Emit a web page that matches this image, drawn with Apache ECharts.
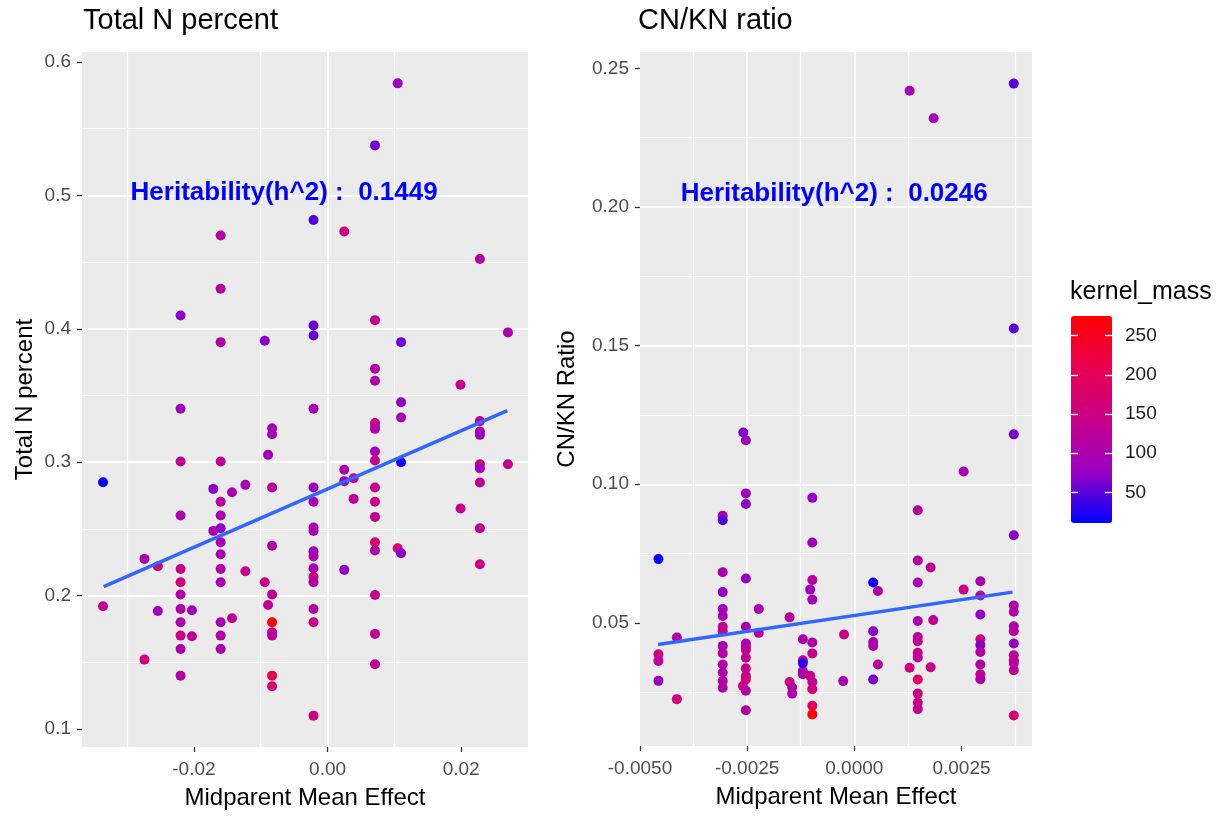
<!DOCTYPE html>
<html>
<head>
<meta charset="utf-8">
<script src="https://cdn.jsdelivr.net/npm/echarts@6/dist/echarts.min.js"></script>
<style>
  html, body { margin: 0; padding: 0; background: #fff; }
  #main { width: 1231px; height: 817px; }
</style>
</head>
<body>
<div id="main"></div>
<script>
// points: [midparent mean effect, trait value, kernel_mass]
var totalNPoints = [
  [-0.0336, 0.285, 15], [-0.0336, 0.192, 130],
  [-0.0274, 0.2275, 100], [-0.0274, 0.152, 160],
  [-0.0254, 0.222, 160], [-0.0254, 0.1885, 85],
  [-0.0220, 0.410, 70], [-0.0220, 0.340, 85], [-0.0220, 0.3005, 130], [-0.0220, 0.260, 100],
  [-0.0220, 0.220, 140], [-0.0220, 0.210, 160], [-0.0220, 0.2008, 110], [-0.0220, 0.190, 110],
  [-0.0220, 0.180, 110], [-0.0220, 0.170, 150], [-0.0220, 0.160, 100], [-0.0220, 0.140, 110],
  [-0.0203, 0.189, 90], [-0.0203, 0.1695, 130],
  [-0.0171, 0.280, 70], [-0.0171, 0.2485, 100],
  [-0.0160, 0.470, 110], [-0.0160, 0.430, 120], [-0.0160, 0.390, 110], [-0.0160, 0.3005, 130],
  [-0.0160, 0.2703, 120], [-0.0160, 0.260, 95], [-0.0160, 0.2505, 70], [-0.0160, 0.240, 95],
  [-0.0160, 0.231, 100], [-0.0160, 0.220, 110], [-0.0160, 0.210, 100], [-0.0160, 0.180, 100],
  [-0.0160, 0.170, 110], [-0.0160, 0.160, 100],
  [-0.0143, 0.2775, 100], [-0.0143, 0.183, 130],
  [-0.0123, 0.283, 100], [-0.0123, 0.2183, 140],
  [-0.0094, 0.391, 70], [-0.0094, 0.210, 150],
  [-0.0089, 0.3055, 90], [-0.0089, 0.193, 130],
  [-0.0083, 0.3255, 90], [-0.0083, 0.321, 90], [-0.0083, 0.281, 120], [-0.0083, 0.2373, 110],
  [-0.0083, 0.2008, 130], [-0.0083, 0.1725, 140], [-0.0083, 0.170, 120],
  [-0.0083, 0.140, 210], [-0.0083, 0.132, 170], [-0.0083, 0.180, 275],
  [-0.0021, 0.4815, 45], [-0.0021, 0.4025, 55], [-0.0021, 0.395, 55], [-0.0021, 0.340, 95],
  [-0.0021, 0.281, 80], [-0.0021, 0.2703, 100], [-0.0021, 0.251, 100], [-0.0021, 0.2485, 100],
  [-0.0021, 0.2333, 80], [-0.0021, 0.2293, 100], [-0.0021, 0.2205, 100], [-0.0021, 0.214, 160],
  [-0.0021, 0.210, 110], [-0.0021, 0.190, 110], [-0.0021, 0.180, 140], [-0.0021, 0.110, 160],
  [0.0025, 0.473, 150], [0.0025, 0.2943, 100], [0.0025, 0.2858, 80], [0.0025, 0.2193, 75],
  [0.0039, 0.288, 140], [0.0039, 0.2725, 120],
  [0.0071, 0.5375, 60], [0.0071, 0.4065, 130], [0.0071, 0.370, 110], [0.0071, 0.361, 110],
  [0.0071, 0.3293, 150], [0.0071, 0.3268, 140], [0.0071, 0.325, 110], [0.0071, 0.308, 90],
  [0.0071, 0.3013, 140], [0.0071, 0.281, 140], [0.0071, 0.2703, 140], [0.0071, 0.259, 130],
  [0.0071, 0.240, 180], [0.0071, 0.2338, 110], [0.0071, 0.2005, 140], [0.0071, 0.1713, 130],
  [0.0071, 0.1485, 130],
  [0.0105, 0.584, 80], [0.0105, 0.2355, 160],
  [0.0110, 0.390, 60], [0.0110, 0.345, 75], [0.0110, 0.3335, 100], [0.0110, 0.300, 20], [0.0110, 0.2318, 70],
  [0.0199, 0.358, 140], [0.0199, 0.2653, 140],
  [0.0228, 0.4523, 110], [0.0228, 0.3308, 130], [0.0228, 0.323, 110], [0.0228, 0.3205, 80],
  [0.0228, 0.2985, 140], [0.0228, 0.2955, 85], [0.0228, 0.2848, 130], [0.0228, 0.2505, 130],
  [0.0228, 0.2235, 150],
  [0.0270, 0.3973, 100], [0.0270, 0.2985, 140]
];

var cnknPoints = [
  [-0.00457, 0.073, 15], [-0.00457, 0.0387, 160], [-0.00457, 0.0363, 120], [-0.00457, 0.0291, 75],
  [-0.00414, 0.0447, 110], [-0.00414, 0.0225, 160],
  [-0.00307, 0.0886, 100], [-0.00307, 0.087, 45], [-0.00307, 0.0683, 100], [-0.00307, 0.0611, 75],
  [-0.00307, 0.055, 85], [-0.00307, 0.0525, 95], [-0.00307, 0.0486, 130], [-0.00307, 0.047, 140],
  [-0.00307, 0.0417, 100], [-0.00307, 0.039, 110], [-0.00307, 0.035, 110], [-0.00307, 0.0321, 110],
  [-0.00307, 0.0291, 110], [-0.00307, 0.0266, 110],
  [-0.00259, 0.1187, 65], [-0.00253, 0.1159, 80], [-0.00253, 0.0967, 85], [-0.00253, 0.0929, 70],
  [-0.00253, 0.066, 75], [-0.00253, 0.0486, 100], [-0.00253, 0.0426, 100], [-0.00253, 0.0414, 100],
  [-0.00253, 0.0402, 130], [-0.00253, 0.0374, 130], [-0.00253, 0.0336, 140], [-0.00253, 0.0308, 150],
  [-0.00253, 0.0296, 160], [-0.0026, 0.0272, 150], [-0.00253, 0.0255, 110], [-0.00253, 0.0185, 110],
  [-0.00223, 0.055, 100], [-0.00223, 0.0464, 110],
  [-0.00151, 0.052, 120], [-0.00151, 0.0287, 160], [-0.00145, 0.0267, 110], [-0.00145, 0.0245, 100],
  [-0.0012, 0.0441, 100], [-0.0012, 0.0365, 130], [-0.0012, 0.0326, 110], [-0.0012, 0.0315, 100],
  [-0.0012, 0.0355, 30],
  [-0.00098, 0.0951, 75], [-0.00098, 0.079, 85], [-0.00098, 0.0655, 120], [-0.00103, 0.062, 85],
  [-0.00098, 0.0584, 95], [-0.00098, 0.0429, 110], [-0.00098, 0.039, 140], [-0.00103, 0.0309, 150],
  [-0.00098, 0.0287, 130], [-0.00098, 0.0261, 160], [-0.00098, 0.0201, 200], [-0.00098, 0.017, 270],
  [-0.00024, 0.0458, 150], [-0.00026, 0.029, 100],
  [0.00044, 0.047, 70], [0.00044, 0.0431, 90], [0.00044, 0.0417, 110], [0.00044, 0.0296, 65],
  [0.00055, 0.0615, 110], [0.00055, 0.035, 110], [0.00044, 0.0646, 15],
  [0.00129, 0.2419, 90], [0.00129, 0.0338, 160],
  [0.00148, 0.0906, 120], [0.00148, 0.0725, 115], [0.00148, 0.0646, 100], [0.00148, 0.0507, 100],
  [0.00148, 0.0449, 110], [0.00148, 0.0434, 130], [0.00148, 0.0392, 140], [0.00148, 0.0375, 130],
  [0.00148, 0.0296, 190], [0.00148, 0.0245, 150], [0.00148, 0.0212, 140], [0.00148, 0.0189, 130],
  [0.00185, 0.232, 90], [0.00178, 0.070, 130], [0.00184, 0.051, 130], [0.00178, 0.034, 140],
  [0.00255, 0.1046, 100], [0.00255, 0.062, 140],
  [0.00294, 0.065, 100], [0.00294, 0.0599, 130], [0.00294, 0.053, 75], [0.00294, 0.0441, 150],
  [0.00294, 0.042, 70], [0.00294, 0.0395, 110], [0.00294, 0.035, 110], [0.00294, 0.0315, 140],
  [0.00294, 0.0297, 110],
  [0.00372, 0.2445, 50], [0.00372, 0.1562, 50], [0.00372, 0.118, 65], [0.00372, 0.0816, 70],
  [0.00372, 0.0563, 110], [0.00372, 0.054, 110], [0.00372, 0.0488, 100], [0.00372, 0.047, 120],
  [0.00372, 0.0426, 75], [0.00372, 0.0383, 130], [0.00372, 0.0365, 150], [0.00372, 0.0355, 110],
  [0.00372, 0.0329, 130], [0.00372, 0.0166, 170]
];

// lm fit line ends
var totalNFitX = [-0.0335, 0.0269];
var totalNFitY = [0.2067, 0.3386];
var cnknFitX = [-0.00458, 0.00369];
var cnknFitY = [0.0422, 0.0611];

// heritability annotations
var h2Values = ['0.1449', '0.0246'];
var h2LabelX = [-0.0065, -0.00047];
var h2LabelY = [0.502, 0.2049];

// tick labels
var totalNXTicks = [-0.02, 0, 0.02];
var totalNYTicks = [0.1, 0.2, 0.3, 0.4, 0.5, 0.6];
var cnknXTicks = [-0.005, -0.0025, 0, 0.0025];
var cnknYTicks = [0.05, 0.10, 0.15, 0.20, 0.25];
var massTicks = [50, 100, 150, 200, 250];
var massMin = 11, massMax = 275;

var FONT = "'Liberation Sans', Arial, sans-serif";
var chart = echarts.init(document.getElementById('main'));

function axisBase(gridIndex, ticks, digits) {
  return {
    type: 'value',
    gridIndex: gridIndex,
    axisLine: { show: false, onZero: false },
    axisTick: { show: true, length: 5, customValues: ticks, lineStyle: { color: '#333333', width: 1.3 } },
    axisLabel: {
      customValues: ticks, fontSize: 19, color: '#4D4D4D', fontFamily: FONT,
      formatter: function (v) { return v.toFixed(digits); }
    },
    splitLine: { show: true, showMinLine: false, showMaxLine: false, lineStyle: { color: '#ffffff', width: 2 } },
    minorTick: { show: false, splitNumber: 2 },
    minorSplitLine: { show: true, lineStyle: { color: '#ffffff', width: 1.2 } },
    nameLocation: 'middle',
    nameTextStyle: { fontSize: 24, color: '#000', fontFamily: FONT }
  };
}

var xAxes = [
  Object.assign(axisBase(0, totalNXTicks, 2), { min: -0.03675, max: 0.030, splitNumber: 3, name: 'Midparent Mean Effect', nameGap: 39 }),
  Object.assign(axisBase(1, cnknXTicks, 4), { min: -0.005, max: 0.004145, interval: 0.0025, name: 'Midparent Mean Effect', nameGap: 39 }),
  { type: 'value', gridIndex: 2, show: false, min: 0, max: 1 }
];
xAxes[0].axisLabel.margin = 13;
xAxes[1].axisLabel.margin = 13;

var yAxes = [
  Object.assign(axisBase(0, totalNYTicks, 1), { min: 0.0865, max: 0.6075, splitNumber: 5, name: 'Total N percent', nameGap: 45 }),
  Object.assign(axisBase(1, cnknYTicks, 2), { min: 0.0056, max: 0.2559, splitNumber: 5, name: 'CN/KN Ratio', nameGap: 61 }),
  {
    type: 'value', gridIndex: 2, position: 'right', min: massMin, max: massMax, splitNumber: 5, z: 10,
    axisLine: { show: false, onZero: false }, splitLine: { show: false },
    axisTick: { show: true, inside: true, length: 7, customValues: massTicks, lineStyle: { color: '#ffffff', width: 1.3 } },
    axisLabel: { customValues: massTicks, margin: 13, fontSize: 19, color: '#1a1a1a', fontFamily: FONT }
  },
  {
    type: 'value', gridIndex: 2, position: 'left', min: massMin, max: massMax, splitNumber: 5, z: 10,
    axisLine: { show: false, onZero: false }, splitLine: { show: false }, axisLabel: { show: false },
    axisTick: { show: true, inside: true, length: 7, customValues: massTicks, lineStyle: { color: '#ffffff', width: 1.3 } }
  }
];
yAxes[0].axisLabel.margin = 11;
yAxes[1].axisLabel.margin = 11;

function pointSeries(data, idx) {
  return {
    type: 'scatter', xAxisIndex: idx, yAxisIndex: idx, data: data,
    symbolSize: 10, silent: true, z: 2,
    itemStyle: { opacity: 1 }
  };
}

function fitSeries(xs, ys, idx) {
  return {
    type: 'line', xAxisIndex: idx, yAxisIndex: idx,
    data: [[xs[0], ys[0]], [xs[1], ys[1]]],
    symbol: 'none', silent: true, z: 3,
    lineStyle: { color: '#3366FF', width: 3.5 }
  };
}

function h2Series(idx) {
  return {
    type: 'scatter', xAxisIndex: idx, yAxisIndex: idx, symbolSize: 0, silent: true, z: 4,
    itemStyle: { opacity: 1 },
    data: [[h2LabelX[idx], h2LabelY[idx]]],
    label: {
      show: true, position: 'inside', color: '#0000FF', fontSize: 26, fontWeight: 'bold', fontFamily: FONT,
      textBorderWidth: 0, opacity: 1,
      formatter: function () { return 'Heritability(h^2) :  ' + h2Values[idx]; }
    }
  };
}

var option = {
  animation: false,
  backgroundColor: '#ffffff',
  title: [
    { text: 'Total N percent', left: 83, top: 6, padding: 0, textStyle: { fontSize: 29, fontWeight: 'normal', color: '#000', fontFamily: FONT } },
    { text: 'CN/KN ratio', left: 638, top: 6, padding: 0, textStyle: { fontSize: 29, fontWeight: 'normal', color: '#000', fontFamily: FONT } }
  ],
  grid: [
    { left: 82, top: 52, width: 446, height: 695, show: true, backgroundColor: '#EBEBEB', borderWidth: 0 },
    { left: 640, top: 52, width: 392, height: 694, show: true, backgroundColor: '#EBEBEB', borderWidth: 0 },
    { left: 1071, top: 316, width: 41, height: 207, show: false }
  ],
  xAxis: xAxes,
  yAxis: yAxes,
  visualMap: {
    type: 'continuous', seriesIndex: [0, 1], dimension: 2,
    min: massMin, max: massMax, calculable: false, hoverLink: false,
    left: 1071, top: 316, itemWidth: 41, itemHeight: 207, padding: 0,
    inRange: { color: ['#0000FF', '#9A00C2', '#C90088', '#E80050', '#FF0000'] }
  },
  graphic: [{
    type: 'text', left: 1070, top: 280,
    style: { text: 'kernel_mass', fill: '#000', font: '25px ' + FONT }
  }],
  series: [
    pointSeries(totalNPoints, 0),
    pointSeries(cnknPoints, 1),
    fitSeries(totalNFitX, totalNFitY, 0),
    fitSeries(cnknFitX, cnknFitY, 1),
    h2Series(0),
    h2Series(1)
  ]
};

chart.setOption(option);
</script>
</body>
</html>
